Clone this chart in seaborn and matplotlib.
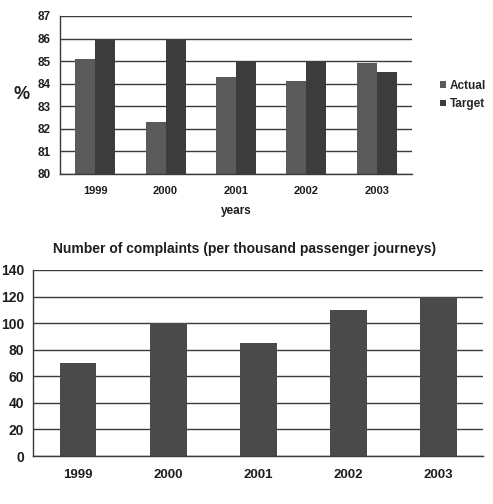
import pandas as pd
import seaborn as sns
import matplotlib.pyplot as plt
import numpy as np

# data
years = ["1999", "2000", "2001", "2002", "2003"]
actual = [85.1, 82.3, 84.3, 84.1, 84.9]
target = [86.0, 86.0, 85.0, 85.0, 84.5]
complaints = [70, 100, 85, 110, 120]

sns.set_style("white")
plt.rcParams["font.family"] = ["Liberation Sans", "DejaVu Sans"]
plt.rcParams["font.weight"] = "bold"

topDF = pd.DataFrame({
    "year": years * 2,
    "value": actual + target,
    "kind": ["Actual"] * 5 + ["Target"] * 5,
})
botDF = pd.DataFrame({"year": years, "complaints": complaints})

fig = plt.figure(figsize=(4.93, 5.04), dpi=100)
ax1 = fig.add_axes([0.1217, 0.6548, 0.714, 0.3135])
ax2 = fig.add_axes([0.067, 0.0952, 0.913, 0.3691])


def style_axis(ax, ymin, ymax, step, xsize, ysize):
    ax.set_ylim(ymin, ymax)
    ax.set_yticks(np.arange(ymin, ymax + step, step))
    ax.set_xlim(-0.5, 4.5)
    ax.yaxis.grid(True, color="#3a3a3a", linewidth=1.0)
    ax.set_axisbelow(True)
    for s in ["top", "right"]:
        ax.spines[s].set_visible(False)
    for s in ["left", "bottom"]:
        ax.spines[s].set_color("#3a3a3a")
        ax.spines[s].set_linewidth(1.0)
    ax.set_xticks(np.arange(-0.5, 5, 1), minor=True)
    ax.tick_params(axis="x", which="major", length=0, pad=9, labelsize=xsize, colors="#1e1e1e")
    ax.tick_params(axis="x", which="minor", length=4, width=1, color="#3a3a3a", direction="out")
    ax.tick_params(axis="y", length=3, width=1, color="#3a3a3a", direction="out", labelsize=ysize, colors="#1e1e1e")
    ax.set_xlabel("")
    ax.set_ylabel("")


# top chart: actual vs target
sns.barplot(data=topDF, x="year", y="value", hue="kind", ax=ax1,
            palette=["#5a5a5a", "#3c3c3c"], width=0.57, saturation=1,
            linewidth=0)
style_axis(ax1, 80, 87, 1, 8, 8.5)
ax1.set_xlabel("years", fontsize=8.5, fontweight="bold", color="#1e1e1e", labelpad=6)
ax1.text(-0.11, 0.5, "%", transform=ax1.transAxes, fontsize=13, fontweight="bold",
         ha="center", va="center", color="#1e1e1e")
leg = ax1.legend(loc="center left", bbox_to_anchor=(1.05, 0.5), frameon=False,
                 fontsize=8.5, handlelength=0.5, handleheight=0.5, handletextpad=0.3,
                 labelspacing=0.55)

# bottom chart: complaints
sns.barplot(data=botDF, x="year", y="complaints", ax=ax2, color="#4a4a4a",
            width=0.41, saturation=1, linewidth=0)
style_axis(ax2, 0, 140, 20, 9.5, 10)
ax2.set_title("Number of complaints (per thousand passenger journeys)",
              fontsize=10, fontweight="bold", color="#1e1e1e", pad=12, x=0.47)

plt.savefig("out.png", dpi=100)
